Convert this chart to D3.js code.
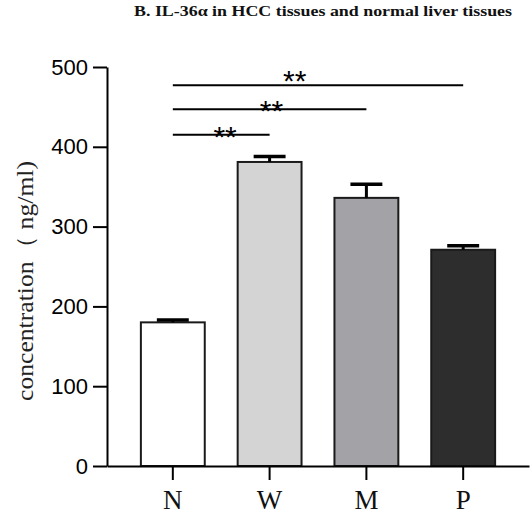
<!DOCTYPE html>
<html>
<head>
<meta charset="utf-8">
<script src="https://cdn.jsdelivr.net/npm/d3@7"></script>
<style>
  html, body { margin: 0; padding: 0; background: #fff; }
  svg { display: block; }
</style>
</head>
<body>
<svg id="chart" width="532" height="514"></svg>
<script>
// ---- data ----
const categories = ["N", "W", "M", "P"];
const values = [180, 381, 336, 271];
const errors = [3, 7, 17, 5];
const barColors = ["#ffffff", "#d4d4d4", "#a3a2a7", "#2d2d2d"];
const yTicks = [0, 100, 200, 300, 400, 500];
const sigFrom = ["N", "N", "N"];
const sigTo = ["P", "M", "W"];
const sigLevels = [477, 447, 415];
const starLevels = [486.5, 448, 416];
const starFractions = [0.42, 0.51, 0.54];
const sigLabels = ["**", "**", "**"];
const titleText = "B.  IL-36\u03b1 in HCC tissues and normal liver tissues";
const yTitle = "concentration\uff08 ng/ml)";

// ---- layout ----
const svg = d3.select("#chart");
const axisX = 107, axisY = 466, topY = 67, rightX = 529;

const x = d3.scaleBand().domain(categories).range([axisX, rightX])
  .paddingInner(0.34).paddingOuter(0.35);
const y = d3.scaleLinear().domain([0, 500]).range([axisY, topY]);

// title
svg.append("text")
  .attr("x", 134).attr("y", 16)
  .attr("font-family", "'Liberation Serif', 'Times New Roman', serif")
  .attr("font-weight", "bold").attr("font-size", 14.5)
  .attr("textLength", 378).attr("lengthAdjust", "spacingAndGlyphs")
  .attr("fill", "#111")
  .text(titleText);

// bars
svg.append("g").selectAll("rect").data(categories).join("rect")
  .attr("x", d => x(d))
  .attr("y", (d, i) => y(values[i]))
  .attr("width", x.bandwidth())
  .attr("height", (d, i) => y(0) - y(values[i]))
  .attr("fill", (d, i) => barColors[i])
  .attr("stroke", "#1a1a1a").attr("stroke-width", 2);

// error bars
const eb = svg.append("g").attr("stroke", "#000");
categories.forEach((c, i) => {
  const cx = x(c) + x.bandwidth() / 2;
  const half = x.bandwidth() / 4;
  eb.append("line").attr("x1", cx).attr("x2", cx)
    .attr("y1", y(values[i])).attr("y2", y(values[i] + errors[i]))
    .attr("stroke-width", 3);
  eb.append("line").attr("x1", cx - half).attr("x2", cx + half)
    .attr("y1", y(values[i] + errors[i])).attr("y2", y(values[i] + errors[i]))
    .attr("stroke-width", 3.5);
});

// axes
const yAxis = svg.append("g").attr("transform", `translate(${axisX},0)`)
  .call(d3.axisLeft(y).tickValues(yTicks).tickSize(14).tickSizeOuter(0).tickPadding(5));
yAxis.selectAll("path, line").attr("stroke", "#000").attr("stroke-width", 2);
yAxis.selectAll("text")
  .attr("font-family", "'Liberation Sans', Arial, sans-serif")
  .attr("font-size", 22).attr("fill", "#000");

const xAxis = svg.append("g").attr("transform", `translate(0,${axisY})`)
  .call(d3.axisBottom(x).tickSize(14).tickSizeOuter(0).tickPadding(10));
xAxis.selectAll("path, line").attr("stroke", "#000").attr("stroke-width", 2);
xAxis.selectAll("text")
  .attr("font-family", "'Liberation Serif', 'Times New Roman', serif")
  .attr("font-size", 27).attr("fill", "#111");

// y title
svg.append("text")
  .attr("transform", `translate(33,281) rotate(-90)`)
  .attr("text-anchor", "middle")
  .attr("font-family", "'Liberation Serif', 'Times New Roman', serif")
  .attr("font-size", 23).attr("fill", "#222")
  .attr("textLength", 240).attr("lengthAdjust", "spacingAndGlyphs")
  .text(yTitle);

// significance
const sig = svg.append("g");
sigLevels.forEach((lv, i) => {
  const x1 = x(sigFrom[i]) + x.bandwidth() / 2;
  const x2 = x(sigTo[i]) + x.bandwidth() / 2;
  sig.append("line").attr("x1", x1).attr("x2", x2)
    .attr("y1", y(lv)).attr("y2", y(lv))
    .attr("stroke", "#000").attr("stroke-width", 2);
  sig.append("text")
    .attr("x", x1 + (x2 - x1) * starFractions[i]).attr("y", y(starLevels[i]) + 13)
    .attr("text-anchor", "middle")
    .attr("font-family", "'Liberation Sans', Arial, sans-serif")
    .attr("font-size", 30).attr("fill", "#000")
    .text(sigLabels[i]);
});
</script>
</body>
</html>
